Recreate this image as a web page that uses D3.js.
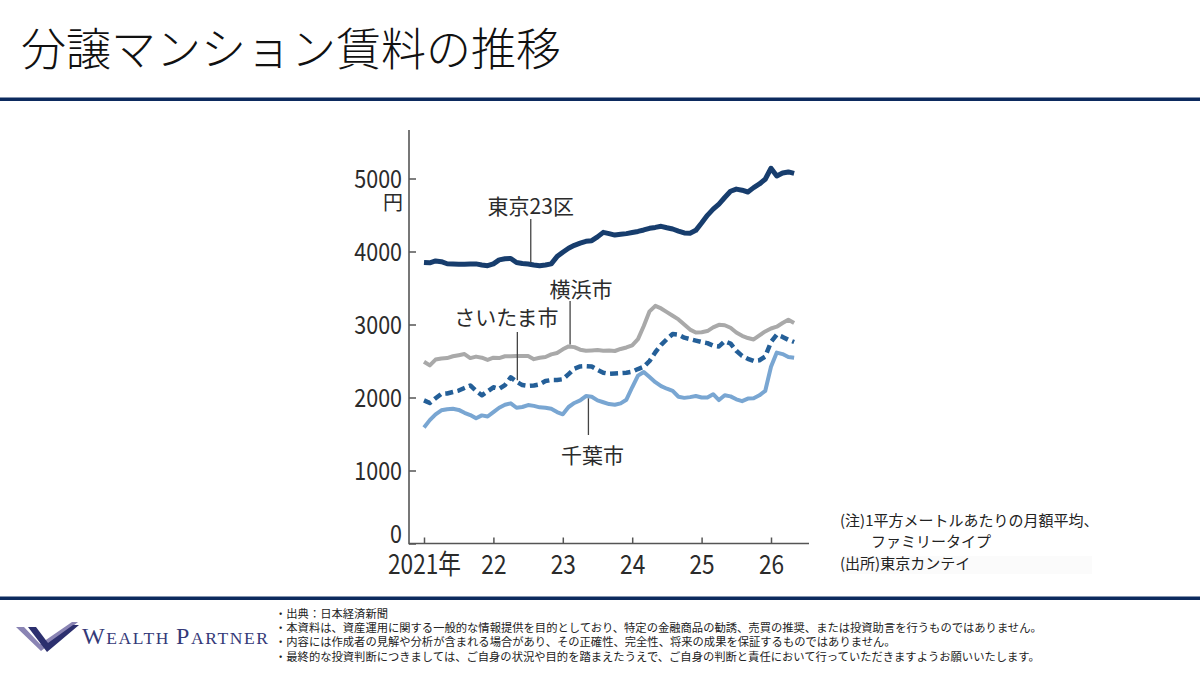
<!DOCTYPE html>
<html><head><meta charset="utf-8">
<script src="https://cdn.jsdelivr.net/npm/d3@7"></script>
<style>
html,body{margin:0;padding:0;background:#fff;}
svg{display:block;}
text{font-family:"Noto Sans CJK JP","Noto Sans",sans-serif;}
</style></head><body>
<svg id="c" width="1200" height="675"></svg>
<script>
// ---- data ----
const titleText = "分譲マンション賃料の推移";
const yearLabels = ["2021年","22","23","24","25","26"];
const yearTickMonths = [0,12,24,36,48,60];
const yTicks = [0,1000,2000,3000,4000,5000];
const yUnit = "円";
const seriesNames = ["東京23区","横浜市","さいたま市","千葉市"];
// monthly averages, Jan 2021 .. May 2026 (yen / m2)
const tokyo = [3850,3845,3870,3860,3832,3828,3825,3825,3828,3830,
               3815,3805,3830,3885,3900,3905,3850,3835,3828,3815,
               3805,3815,3830,3930,3990,4045,4085,4115,4140,4148,
               4200,4262,4245,4225,4235,4245,4260,4275,4295,4318,
               4330,4345,4325,4308,4280,4255,4250,4290,4390,4495,
               4580,4650,4740,4825,4855,4840,4815,4875,4925,4990,
               5140,5035,5075,5090,5070];
const yokohama = [2490,2440,2520,2535,2540,2565,2580,2595,2540,2560,
                  2545,2515,2545,2540,2565,2565,2570,2570,2568,2525,
                  2545,2555,2590,2610,2660,2700,2690,2655,2640,2645,
                  2650,2640,2645,2637,2665,2685,2715,2800,2980,3180,
                  3255,3220,3170,3120,3070,3000,2930,2890,2895,2910,
                  2960,2995,2990,2955,2890,2845,2815,2795,2850,2905,
                  2945,2970,3020,3065,3020];
const saitama = [1960,1925,1990,2050,2055,2075,2095,2130,2165,2090,
                 2030,2085,2140,2118,2170,2277,2216,2170,2158,2165,
                 2180,2225,2240,2240,2250,2320,2395,2425,2430,2425,
                 2380,2340,2325,2330,2335,2340,2355,2390,2420,2500,
                 2620,2720,2800,2870,2860,2820,2800,2780,2760,2745,
                 2710,2700,2770,2740,2640,2570,2530,2500,2510,2560,
                 2760,2860,2830,2790,2760];
const chiba = [1590,1690,1770,1825,1840,1845,1830,1790,1760,1715,
               1755,1740,1800,1860,1900,1920,1860,1870,1897,1885,
               1865,1860,1845,1800,1770,1870,1925,1960,2020,2010,
               1960,1935,1910,1900,1920,1970,2140,2300,2350,2280,
               2210,2155,2120,2090,2010,1995,2005,2020,2000,2000,
               2045,1965,2030,2015,1975,1950,1985,1990,2030,2090,
               2420,2615,2595,2555,2545];
const notes = ["(注)1平方メートルあたりの月額平均、","ファミリータイプ","(出所)東京カンテイ"];
const footerLines = [
  "・出典：日本経済新聞",
  "・本資料は、資産運用に関する一般的な情報提供を目的としており、特定の金融商品の勧誘、売買の推奨、または投資助言を行うものではありません。",
  "・内容には作成者の見解や分析が含まれる場合があり、その正確性、完全性、将来の成果を保証するものではありません。",
  "・最終的な投資判断につきましては、ご自身の状況や目的を踏まえたうえで、ご自身の判断と責任において行っていただきますようお願いいたします。"
];

// ---- drawing ----
const svg = d3.select("#c");
const navy = "#0c2a5e";

// title + rules
svg.append("text").attr("x",21).attr("y",66)
  .attr("font-size",45).attr("font-weight",300).attr("fill","#111")
  .text(titleText);
svg.append("rect").attr("x",0).attr("y",97.5).attr("width",1200).attr("height",3.5).attr("fill",navy);
svg.append("rect").attr("x",0).attr("y",596.5).attr("width",1200).attr("height",3.5).attr("fill",navy);

// scales
const x = d3.scaleLinear().domain([0,60]).range([424,771]);
const y = d3.scaleLinear().domain([0,5000]).range([543.5,178.5]);
const axisX0 = 409, axisTop = 130, axisRight = 809;
const axisColor = "#555", txtColor = "#2b2b2b";

function squeeze(sel, f){
  sel.each(function(){
    const w = this.getComputedTextLength();
    d3.select(this).attr("textLength", w*f).attr("lengthAdjust","spacingAndGlyphs");
  });
}

// y axis
const gy = svg.append("g").attr("transform",`translate(${axisX0},0)`)
  .call(d3.axisLeft(y).tickValues(yTicks).tickSize(-7).tickPadding(7).tickFormat(d3.format("d")));
gy.select(".domain").remove();
gy.selectAll(".tick line").attr("stroke",axisColor).attr("stroke-width",1.5);
gy.selectAll(".tick text").attr("font-size",25).attr("fill",txtColor)
  .attr("dy",(d)=> d===0 ? "-0.06em" : "0.35em");
squeeze(gy.selectAll(".tick text"),0.86);
svg.append("text").attr("x",axisX0-6).attr("y",y(5000)+31)
  .attr("text-anchor","end").attr("font-size",20).attr("fill",txtColor).text(yUnit);

// x axis
const gx = svg.append("g").attr("transform",`translate(0,${y(0)})`)
  .call(d3.axisBottom(x).tickValues(yearTickMonths).tickSize(-6).tickPadding(11)
        .tickFormat((d,i)=>yearLabels[i]));
gx.select(".domain").remove();
gx.selectAll(".tick line").attr("stroke",axisColor).attr("stroke-width",1.5);
gx.selectAll(".tick text").attr("font-size",27).attr("fill",txtColor);
squeeze(gx.selectAll(".tick text"),0.84);

svg.append("line").attr("x1",axisX0).attr("x2",axisX0).attr("y1",axisTop).attr("y2",y(0)+0.75)
  .attr("stroke",axisColor).attr("stroke-width",1.6);
svg.append("line").attr("x1",axisX0).attr("x2",axisRight).attr("y1",y(0)).attr("y2",y(0))
  .attr("stroke",axisColor).attr("stroke-width",1.6);

// lines
const line = d3.line().x((d,i)=>x(i)).y(d=>y(d));
const styles = [
  {data:yokohama, color:"#a9a9a9", w:4, dash:null},
  {data:chiba,    color:"#79a6d2", w:4, dash:null},
  {data:saitama,  color:"#245f98", w:4.5, dash:"8,4.5"},
  {data:tokyo,    color:"#173d6d", w:5, dash:null}
];
styles.forEach(s=>{
  svg.append("path").datum(s.data).attr("d",line)
    .attr("fill","none").attr("stroke",s.color).attr("stroke-width",s.w)
    .attr("stroke-linejoin","round").attr("stroke-linecap","butt")
    .attr("stroke-dasharray",s.dash);
});

// annotations
function valAt(arr,m){ const i=Math.floor(m), t=m-i; return arr[i]*(1-t)+arr[i+1]*t; }
const ann = [
  {name:seriesNames[0], data:tokyo,    m:18.46, dx:0,   ty:214, top:219, below:false},
  {name:seriesNames[1], data:yokohama, m:25.26, dx:11,  ty:297, top:301, below:false},
  {name:seriesNames[2], data:saitama,  m:16.14, dx:-11, ty:325, top:332, below:false},
  {name:seriesNames[3], data:chiba,    m:28.43, dx:4,   ty:463, top:435, below:true}
];
ann.forEach(a=>{
  const lx = x(a.m), ly = y(valAt(a.data,a.m));
  svg.append("line").attr("x1",lx).attr("x2",lx)
    .attr("y1", a.below ? ly+2 : a.top).attr("y2", a.below ? a.top : ly-2)
    .attr("stroke","#444").attr("stroke-width",1.3);
  svg.append("text").attr("x",lx+a.dx).attr("y",a.ty).attr("text-anchor","middle")
    .attr("font-size",21).attr("fill",txtColor).text(a.name);
});

// notes
svg.append("rect").attr("x",842).attr("y",556).attr("width",250).attr("height",18).attr("fill","#fbfbfb");
svg.append("text").attr("x",840).attr("y",526).attr("font-size",15).attr("fill","#222").text(notes[0]);
svg.append("text").attr("x",871).attr("y",547).attr("font-size",15).attr("fill","#222").text(notes[1]);
svg.append("text").attr("x",840).attr("y",569).attr("font-size",15).attr("fill","#222").text(notes[2]);

// logo
const logo = svg.append("g");
logo.append("polygon").attr("points","16,627 24,627 40,644 72,622 78,622 41,651")
  .attr("fill","#8a84b4");
logo.append("polygon").attr("points","28,627 36,627 48,643 73,625 79,625 47,652")
  .attr("fill","#2c2f6e");
const lt = logo.append("text").attr("x",82).attr("y",644).attr("fill","#353a78")
  .style("font-family",'"Liberation Serif","DejaVu Serif",serif')
  .attr("textLength",186).attr("lengthAdjust","spacing");
lt.append("tspan").attr("font-size",24).text("W");
lt.append("tspan").attr("font-size",17.5).text("EALTH ");
lt.append("tspan").attr("font-size",24).text("P");
lt.append("tspan").attr("font-size",17.5).text("ARTNER");

// footer text
footerLines.forEach((t,i)=>{
  svg.append("text").attr("x",275).attr("y",618+i*14.2).attr("font-size",11.3)
    .attr("fill","#222").text(t);
});
</script>
</body></html>
